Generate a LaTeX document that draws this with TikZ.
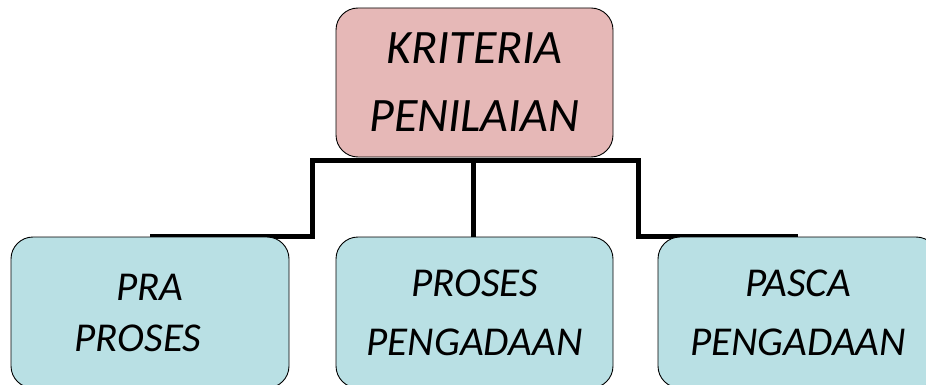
\documentclass[tikz,border=0pt]{standalone}
\usepackage{fontspec}
\setmainfont{Carlito}
\definecolor{toppink}{RGB}{230,184,183}
\definecolor{boxcyan}{RGB}{185,224,228}
\begin{document}
\begin{tikzpicture}[x=1pt,y=-1pt,
  box/.style={draw=black, line width=0.9pt, rounded corners=22pt, align=center, inner sep=0pt},
  topbox/.style={box, fill=toppink, minimum width=277pt, minimum height=149pt, font=\itshape\fontsize{48}{68}\selectfont},
  subbox/.style={box, fill=boxcyan, minimum height=151pt, font=\itshape\fontsize{41}{59}\selectfont},
  conn/.style={line width=5pt, black}]
\useasboundingbox (0,0) rectangle (926,385);
% connectors (behind boxes)
\coordinate (la) at (150,236.5);
\coordinate (lb) at (312,236.5);
\coordinate (lc) at (312,160.5);
\coordinate (rc) at (638,160.5);
\coordinate (rb) at (638,236.5);
\coordinate (ra) at (798,236.5);
\coordinate (mt) at (473,160.5);
\coordinate (mb) at (473,237);
\draw[conn] (la) -- (lb) -- (lc) -- (rc) -- (rb) -- (ra);
\draw[conn] (mt) -- (mb);
% boxes
\node[topbox] (top) at (474.5,82.5) {KRITERIA\\PENILAIAN};
\node[subbox, minimum width=278pt, font=\itshape\fontsize{41}{51}\selectfont] (pra) at (150,312.5) {PRA\\PROSES\hspace*{24pt}};
\node[subbox, minimum width=277pt] (proses) at (474.5,312.5) {PROSES\\PENGADAAN};
\node[subbox, minimum width=280pt] (pasca) at (798,312.5) {PASCA\\PENGADAAN};
\end{tikzpicture}
\end{document}
